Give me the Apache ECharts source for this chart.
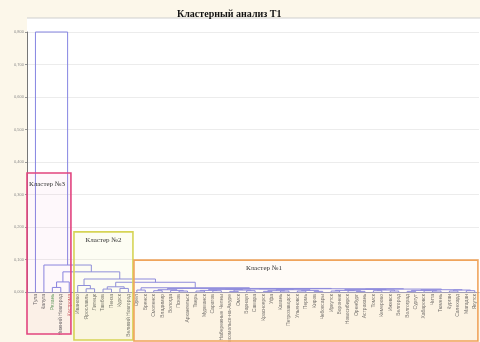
<!DOCTYPE html>
<html>
<head>
<meta charset="utf-8">
<script src="https://cdn.jsdelivr.net/npm/echarts@6/dist/echarts.min.js"></script>
<style>
  html, body { margin: 0; padding: 0; background: #fcf7ea; }
  #chart { width: 480px; height: 342px; }
</style>
</head>
<body>
<div id="chart"></div>
<script>
// Leaf names, in dendrogram order
const leafNames = [
  'Тула', 'Калуга', 'Рязань', 'Нижний Новгород', 'Кострома', 'Иваново', 'Ярославль',
  'Липецк', 'Тамбов', 'Пенза', 'Курск', 'Великий Новгород', 'Орёл', 'Брянск',
  'Смоленск', 'Владимир', 'Вологда', 'Псков', 'Архангельск', 'Тверь', 'Мурманск',
  'Саратов', 'Набережные Челны', 'Комсомольск-на-Амуре', 'Омск', 'Барнаул', 'Самара',
  'Красноярск', 'Уфа', 'Казань', 'Петрозаводск', 'Ульяновск', 'Пермь', 'Киров',
  'Чебоксары', 'Иркутск', 'Воронеж', 'Новосибирск', 'Оренбург', 'Астрахань', 'Томск',
  'Кемерово', 'Ижевск', 'Белгород', 'Волгоград', 'Сургут', 'Хабаровск', 'Чита',
  'Тюмень', 'Курган', 'Салехард', 'Магадан', 'Якутск'
];

// Linkage heights: [height, left, right]; numbers are leaf indices
const tree = [0.80, 0,
  [0.083, 1,
    [0.062,
      [0.031, [0.014, 2, 3], 4],
      [0.040,
        [0.020, 5, [0.010, 6, 7]],
        [0.030,
          [0.016, [0.009, 8, 9], [0.011, 10, 11]],
          [0.013,
            [0.006, 12, 13],
            [0.011,
              [0.007, [0.004, 14, 15], [0.005, 16, [0.003, 17, 18]]],
              [0.010,
                [0.009,
                  [0.008, [0.005, [0.003, 19, 20], [0.004, 21, 22]], [0.006, [0.002, 23, 24], [0.004, 25, 26]]],
                  [0.007, [0.004, [0.002, 27, 28], [0.003, 29, 30]], [0.005, [0.003, 31, 32], [0.002, 33, 34]]]
                ],
                [0.009,
                  [0.008, [0.005, [0.003, 35, 36], [0.004, 37, [0.002, 38, 39]]], [0.006, [0.004, 40, 41], [0.003, 42, 43]]],
                  [0.007, [0.005, [0.002, 44, 45], [0.004, 46, [0.003, 47, 48]]], [0.006, [0.003, 49, 50], [0.004, 51, 52]]]
                ]
              ]
            ]
          ]
        ]
      ]
    ]
  ]
];

// Distance axis ticks
const yTicks = [0, 0.1, 0.2, 0.3, 0.4, 0.5, 0.6, 0.7, 0.8];

// Clusters: name and first/last leaf index
const clusterNames = ['Кластер №3', 'Кластер №2', 'Кластер №1'];
const clusterFirst = [0, 5, 12];
const clusterLast = [4, 11, 52];

// Box styling for each cluster
const clusterStyles = [
  { color: '#e2457f', fill: 'rgba(240,120,170,0.05)', padL: 1.0, padR: 0.2, top: 0.366, bottom: 334, labelAlign: 'left' },
  { color: '#d6d456', fill: 'rgba(240,240,140,0.10)', padL: 0.44, padR: 0.54, top: 0.185, bottom: 340, labelAlign: 'center' },
  { color: '#f0a45c', fill: 'rgba(250,200,150,0.08)', padL: 0.34, padR: 0.37, top: 0.098, bottom: 341, labelAlign: 'center' }
];

// Walk the tree, producing one bracket per merge
const links = [];
function place(node) {
  if (typeof node === 'number') return { x: node + 1, h: 0 };
  const [h, l, r] = node;
  const a = place(l), b = place(r);
  links.push([a.x, a.h, h, b.x, b.h]);
  return { x: (a.x + b.x) / 2, h: h };
}
place(tree);

const leafColors = leafNames.map((n, i) => i === 2 ? '#5e9e5e' : (i === 4 ? '#c8555a' : '#6c6c6c'));

const chart = echarts.init(document.getElementById('chart'), null, { renderer: 'canvas' });

chart.setOption({
  animation: false,
  backgroundColor: '#fcf7ea',
  title: {
    text: 'Кластерный анализ Т1',
    left: 172,
    top: 4,
    textStyle: { fontFamily: 'Liberation Serif', fontWeight: 'bold', fontSize: 10, color: '#111' }
  },
  grid: { left: 27, top: 32, bottom: 50, right: 1, containLabel: false, outerBoundsMode: 'none' },
  xAxis: {
    type: 'value',
    min: 0,
    max: leafNames.length + 0.5,
    interval: 1,
    splitLine: { show: false },
    axisTick: { show: false },
    axisLine: { show: true, lineStyle: { color: '#9a9ab8', width: 1 } },
    axisLabel: {
      rotate: 90,
      margin: 2,
      fontSize: 5,
      fontFamily: 'Liberation Sans',
      showMinLabel: false,
      formatter: v => leafNames[v - 1] || '',
      color: (v) => leafColors[Math.round(v) - 1] || '#6c6c6c'
    }
  },
  yAxis: {
    type: 'value',
    min: yTicks[0],
    max: yTicks[yTicks.length - 1],
    interval: 0.1,
    axisLine: { show: true, lineStyle: { color: '#777', width: 1 } },
    axisTick: { show: true, length: 2, lineStyle: { color: '#999' } },
    splitLine: { show: true, lineStyle: { color: '#ececec', width: 1 } },
    axisLabel: {
      fontSize: 4,
      margin: 3,
      color: '#8a8a8a',
      fontFamily: 'Liberation Sans',
      formatter: v => v.toFixed(3).replace('.', ',')
    }
  },
  series: [{
    type: 'custom',
    silent: true,
    data: links,
    encode: { x: [0, 3], y: [1, 2, 4] },
    renderItem: function (params, api) {
      const p1 = api.coord([api.value(0), api.value(1)]);
      const p2 = api.coord([api.value(0), api.value(2)]);
      const p3 = api.coord([api.value(3), api.value(2)]);
      const p4 = api.coord([api.value(3), api.value(4)]);
      return {
        type: 'polyline',
        shape: { points: [p1, p2, p3, p4] },
        style: { stroke: '#8585e2', lineWidth: 1, fill: null }
      };
    }
  }]
});

// Plot backdrop, top rule and cluster boxes
const W = chart.getWidth();
const base = chart.convertToPixel({ gridIndex: 0 }, [0, 0]);
const graphics = [
  { type: 'rect', z: -10, silent: true, shape: { x: base[0], y: 18, width: W - base[0], height: base[1] - 18 }, style: { fill: '#ffffff' } },
  { type: 'line', z: 5, silent: true, shape: { x1: base[0], y1: 18, x2: W, y2: 18 }, style: { stroke: '#cfcfcf', lineWidth: 1 } }
];
clusterNames.forEach((name, i) => {
  const st = clusterStyles[i];
  const left = chart.convertToPixel({ gridIndex: 0 }, [clusterFirst[i] + 1 - st.padL, st.top]);
  const right = chart.convertToPixel({ gridIndex: 0 }, [clusterLast[i] + 1 + st.padR, st.top]);
  const x0 = left[0], x1 = right[0], y0 = left[1];
  graphics.push({
    type: 'rect', z: 20, silent: true,
    shape: { x: x0, y: y0, width: x1 - x0, height: st.bottom - y0 },
    style: { fill: st.fill, stroke: st.color, lineWidth: 1.6 }
  });
  graphics.push({
    type: 'text', z: 21, silent: true,
    x: st.labelAlign === 'left' ? x0 + 2 : (x0 + x1) / 2 + (i === 2 ? -42 : 0),
    y: y0 + (i === 0 ? 11 : 8),
    style: {
      text: name, fill: '#333', fontSize: 7, fontFamily: 'Liberation Serif',
      align: st.labelAlign, verticalAlign: 'middle'
    }
  });
});
chart.setOption({ graphic: graphics });
</script>
</body>
</html>
